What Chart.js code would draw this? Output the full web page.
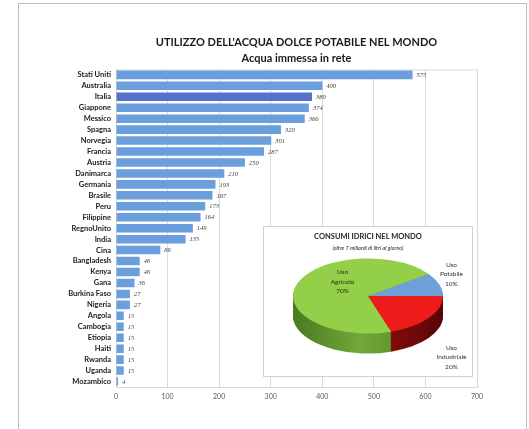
<!DOCTYPE html>
<html>
<head>
<meta charset="utf-8">
<script src="https://cdn.jsdelivr.net/npm/chart.js@4.4.1/dist/chart.umd.min.js"></script>
<style>
  html, body { margin: 0; padding: 0; background: #fff; }
  #wrap { position: relative; width: 529px; height: 429px; overflow: hidden; }
  #frame { position: absolute; left: 18px; top: 3px; width: 507px; height: 440px; border: 1.5px solid #bdbdbd; }
  #main { position: absolute; left: 0; top: 0; }
  #inset { position: absolute; left: 263px; top: 226px; width: 208px; height: 149px; background: #fff; border: 1px solid #d0d0d0; }
  .it { position: absolute; left: 0; width: 100%; text-align: center; font-family: Lato, sans-serif; color: #262626; white-space: nowrap; }
  #it1 { top: 5px; font-size: 7.5px; font-weight: bold; }
  #it2 { top: 18px; font-size: 5.5px; font-style: italic; }
  #pie { position: absolute; left: 0; top: -6px; }
</style>
</head>
<body>
<div id="wrap">
  <div id="frame"></div>
  <canvas id="main" width="529" height="429"></canvas>
  <div id="inset">
    <div class="it" id="it1">CONSUMI IDRICI NEL MONDO</div>
    <div class="it" id="it2">(oltre 7 miliardi di litri al giorno)</div>
    <canvas id="pie" width="208" height="150"></canvas>
  </div>
</div>
<script>
// litri per abitante al giorno, acqua immessa in rete
const paesi = ['Stati Uniti', 'Australia', 'Italia', 'Giappone', 'Messico', 'Spagna', 'Norvegia',
  'Francia', 'Austria', 'Danimarca', 'Germania', 'Brasile', 'Peru', 'Filippine', 'RegnoUnito',
  'India', 'Cina', 'Bangladesh', 'Kenya', 'Gana', 'Burkina Faso', 'Nigeria', 'Angola',
  'Cambogia', 'Etiopia', 'Haiti', 'Rwanda', 'Uganda', 'Mozambico'];
const litri = [575, 400, 380, 374, 366, 320, 301, 287, 250, 210, 193, 187, 173, 164, 149,
  135, 86, 46, 46, 36, 27, 27, 15, 15, 15, 15, 15, 15, 4];
const tickX = ['0', '100', '200', '300', '400', '500', '600', '700'];

// consumi idrici nel mondo (%)
const usi = ['Uso Potabile', 'Uso Industriale', 'Uso Agricolo'];
const quote = [10, 20, 70];

const FONT = 'Lato, "Open Sans", sans-serif';

// cornice intorno all'area del grafico
const cornice = {
  id: 'cornice',
  beforeDatasetsDraw(chart) {
    const { ctx, chartArea: a } = chart;
    ctx.save();
    ctx.strokeStyle = '#d9d9d9';
    ctx.lineWidth = 1;
    ctx.strokeRect(a.left + 0.5, a.top + 0.5, a.right - a.left, a.bottom - a.top);
    ctx.restore();
  }
};

// valori in corsivo a destra delle barre
const etichetteBarre = {
  id: 'etichetteBarre',
  afterDatasetsDraw(chart) {
    const { ctx } = chart;
    const valori = chart.data.datasets[0].data;
    ctx.save();
    ctx.font = 'italic 6.5px "Liberation Serif", serif';
    ctx.fillStyle = '#404040';
    ctx.textBaseline = 'middle';
    chart.getDatasetMeta(0).data.forEach((bar, i) => {
      ctx.fillText(String(valori[i]), bar.x + 4, bar.y + 0.5);
    });
    ctx.restore();
  }
};

new Chart(document.getElementById('main'), {
  type: 'bar',
  data: {
    labels: paesi,
    datasets: [{
      data: litri,
      backgroundColor: paesi.map(p => p === 'Italia' ? '#5572c8' : '#6a9edc'),
      borderWidth: 0,
      barPercentage: 0.78,
      categoryPercentage: 1
    }]
  },
  options: {
    indexAxis: 'y',
    responsive: false,
    animation: false,
    layout: { padding: { left: 20, right: 52, top: 0, bottom: 22 } },
    plugins: {
      legend: { display: false },
      tooltip: { enabled: false },
      title: {
        display: true,
        text: "UTILIZZO DELL'ACQUA DOLCE POTABILE NEL MONDO",
        fullSize: false,
        color: '#1a1a1a',
        font: { family: FONT, size: 11, weight: 'bold' },
        padding: { top: 36, bottom: 3 }
      },
      subtitle: {
        display: true,
        text: 'Acqua immessa in rete',
        fullSize: false,
        color: '#1a1a1a',
        font: { family: FONT, size: 11, weight: 'bold' },
        padding: { top: 0, bottom: 4 }
      }
    },
    scales: {
      x: {
        min: 0,
        max: 700,
        ticks: {
          stepSize: 100,
          padding: 6,
          color: '#595959',
          font: { family: FONT, size: 7 },
          callback: (v, i) => tickX[i]
        },
        grid: { color: '#d9d9d9', drawTicks: false },
        border: { color: '#d9d9d9' },
        afterFit(s) { s.height = 20; }
      },
      y: {
        grid: { display: false, drawTicks: false },
        border: { color: '#bfbfbf' },
        ticks: {
          autoSkip: false,
          padding: 5,
          color: '#1a1a1a',
          font: { family: FONT, size: 7.5, weight: 'bold' }
        },
        afterFit(s) { s.width = 96; }
      }
    }
  },
  plugins: [cornice, etichetteBarre]
});

// torta "3D": spessore disegnato sotto, faccia superiore schiacciata
const torta3d = {
  id: 'torta3d',
  beforeDatasetsDraw(chart, args, opts) {
    const { ctx } = chart;
    const archi = chart.getDatasetMeta(0).data;
    const { x, y } = archi[0];
    const r = archi[0].outerRadius;
    // bordo laterale più scuro ai lati, più chiaro al centro
    const lati = opts.lati.map(([scuro, chiaro]) => {
      const g = ctx.createLinearGradient(-r, 0, r, 0);
      g.addColorStop(0, scuro);
      g.addColorStop(0.45, chiaro);
      g.addColorStop(1, scuro);
      return g;
    });
    ctx.save();
    for (let d = opts.spessore; d > 0; d--) {
      ctx.save();
      ctx.translate(x, y + d);
      ctx.scale(1, opts.schiacciamento);
      archi.forEach((a, i) => {
        ctx.beginPath();
        ctx.moveTo(0, 0);
        ctx.arc(0, 0, a.outerRadius, a.startAngle, a.endAngle);
        ctx.closePath();
        ctx.fillStyle = lati[i];
        ctx.fill();
      });
      ctx.restore();
    }
    ctx.translate(x, y);
    ctx.scale(1, opts.schiacciamento);
    ctx.translate(-x, -y);
  },
  afterDatasetsDraw(chart) {
    chart.ctx.restore();
  }
};

const etichetteTorta = {
  id: 'etichetteTorta',
  afterDraw(chart, args, opts) {
    const { ctx } = chart;
    const archi = chart.getDatasetMeta(0).data;
    ctx.save();
    ctx.font = '6.5px ' + FONT;
    ctx.textAlign = 'center';
    ctx.textBaseline = 'middle';
    archi.forEach((a, i) => {
      const mid = (a.startAngle + a.endAngle) / 2;
      const k = opts.raggio[i];
      const px = a.x + Math.cos(mid) * a.outerRadius * k;
      const py = a.y + Math.sin(mid) * a.outerRadius * k * 0.5 + opts.scarto[i];
      const righe = [...chart.data.labels[i].split(' '), chart.data.datasets[0].data[i] + '%'];
      ctx.fillStyle = opts.colori[i];
      righe.forEach((r, j) => ctx.fillText(r, px, py + (j - 1) * 9.5));
    });
    ctx.restore();
  }
};

new Chart(document.getElementById('pie'), {
  type: 'pie',
  data: {
    labels: usi,
    datasets: [{
      data: quote,
      backgroundColor: ['#6f9fda', '#ee1b1b', '#93cf48'],
      borderWidth: 0
    }]
  },
  options: {
    responsive: false,
    animation: false,
    rotation: 54,
    layout: { padding: 0 },
    plugins: {
      legend: { display: false },
      tooltip: { enabled: false },
      torta3d: {
        schiacciamento: 0.5,
        spessore: 20,
        lati: [['#2f5a90', '#4a7cba'], ['#5a0505', '#9a0e0e'], ['#4a7a20', '#72a83a']]
      },
      etichetteTorta: {
        raggio: [1.17, 1.376, 0.357],
        scarto: [-8.4, 30.7, -10],
        colori: ['#333333', '#333333', '#243210']
      }
    }
  },
  plugins: [torta3d, etichetteTorta]
});
</script>
</body>
</html>
